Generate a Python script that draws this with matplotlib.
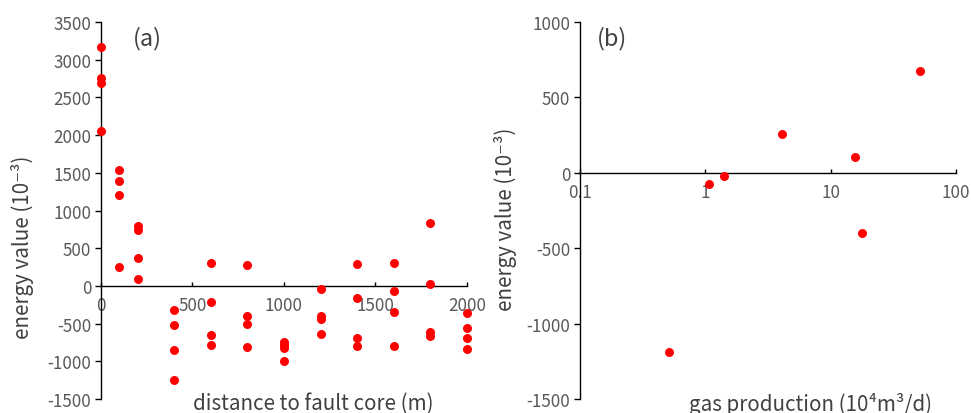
import numpy as np
import matplotlib
matplotlib.use('Agg')
import matplotlib.pyplot as plt

plt.rcParams['font.family'] = ['Noto Sans CJK SC', 'DejaVu Sans']
plt.rcParams['axes.unicode_minus'] = False

# panel (a): energy value vs distance to fault core
distance = [0, 0, 0, 0,
            100, 100, 100, 100,
            200, 200, 200, 200,
            400, 400, 400, 400,
            600, 600, 600, 600,
            800, 800, 800, 800,
            1000, 1000, 1000, 1000,
            1200, 1200, 1200, 1200,
            1400, 1400, 1400, 1400,
            1600, 1600, 1600, 1600,
            1800, 1800, 1800, 1800,
            2000, 2000, 2000, 2000]
energy_a = [3168, 2757, 2695, 2058,
            1531, 1398, 1208, 248,
            788, 743, 367, 88,
            -319, -518, -854, -1252,
            305, -208, -646, -788,
            283, -394, -504, -814,
            -740, -785, -830, -993,
            -36, -394, -440, -637,
            292, -155, -695, -801,
            310, -66, -345, -796,
            841, 31, -615, -668,
            -354, -553, -690, -841]

# panel (b): energy value vs gas production
gas = [0.51, 1.07, 1.40, 4.08, 15.7, 17.8, 51.4]
energy_b = [-1186, -75, -18, 258, 102, -398, 674]

RED = '#FF0000'
TICK_C = '#595959'
LABEL_C = '#404040'


def style_axes(ax):
    for s in ['top', 'right']:
        ax.spines[s].set_visible(False)
    ax.spines['bottom'].set_position(('data', 0))
    for s in ['left', 'bottom']:
        ax.spines[s].set_linewidth(1.0)
        ax.spines[s].set_color('black')
    ax.tick_params(axis='x', direction='in', length=3, width=1.0,
                   labelsize=12.3, labelcolor=TICK_C, pad=7)
    ax.tick_params(axis='y', direction='out', length=4, width=1.0,
                   labelsize=12.3, labelcolor=TICK_C, pad=3)
    ax.minorticks_off()


fig = plt.figure(figsize=(9.71, 4.14), dpi=100)

ax1 = fig.add_axes([0.104, 0.0338, 0.3769, 0.9106])
ax1.scatter(distance, energy_a, s=42, color=RED, clip_on=False, zorder=5,
            linewidths=0)
ax1.set_xlim(0, 2000)
ax1.set_ylim(-1500, 3500)
ax1.set_xticks(np.arange(0, 2001, 500))
ax1.set_yticks(np.arange(-1500, 3501, 500))
style_axes(ax1)
ax1.set_xlabel('distance to fault core (m)', fontsize=14.8, color=LABEL_C)
ax1.xaxis.set_label_coords(0.579, 0.018)
ax1.set_ylabel('energy value (10⁻³)', fontsize=14.8, color=LABEL_C)
ax1.yaxis.set_label_coords(-0.183, 0.406)
ax1.text(0.087, 0.99, '(a)', transform=ax1.transAxes, fontsize=17,
         color=LABEL_C, va='top', ha='left')

ax2 = fig.add_axes([0.5973, 0.0338, 0.3872, 0.9106])
ax2.scatter(gas, energy_b, s=42, color=RED, clip_on=False, zorder=5,
            linewidths=0)
ax2.set_xscale('log')
ax2.set_xlim(0.1, 100)
ax2.set_ylim(-1500, 1000)
ax2.set_xticks([0.1, 1, 10, 100])
ax2.set_xticklabels(['0.1', '1', '10', '100'])
ax2.set_yticks(np.arange(-1500, 1001, 500))
style_axes(ax2)
ax2.set_xlabel('gas production (10⁴m³/d)', fontsize=14.8, color=LABEL_C)
ax2.xaxis.set_label_coords(0.614, 0.018)
ax2.set_ylabel('energy value (10⁻³)', fontsize=14.8, color=LABEL_C)
ax2.yaxis.set_label_coords(-0.168, 0.48)
ax2.text(0.045, 0.99, '(b)', transform=ax2.transAxes, fontsize=17,
         color=LABEL_C, va='top', ha='left')

fig.savefig('out.png', dpi=100)
